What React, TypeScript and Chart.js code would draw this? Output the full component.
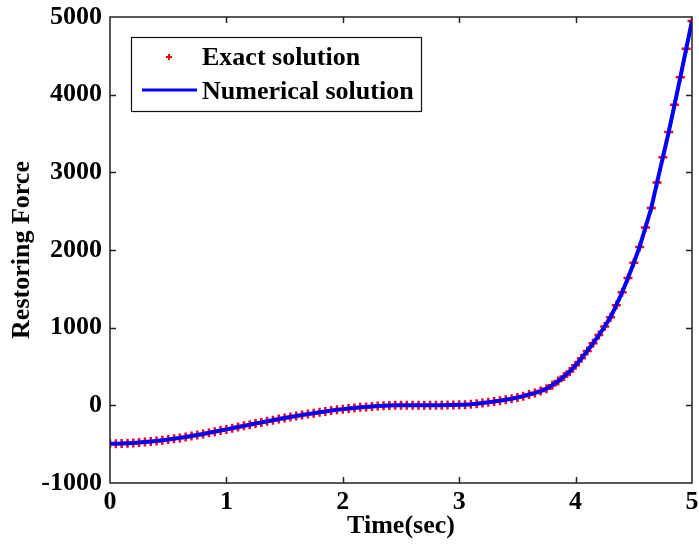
import { useEffect, useRef } from "react";
import { Chart, registerables } from "chart.js";

Chart.register(...registerables);

const timeSec = [
  0.0, 0.05, 0.1, 0.15, 0.2, 0.25, 0.3, 0.35, 0.4, 0.45,
  0.5, 0.55, 0.6, 0.65, 0.7, 0.75, 0.8, 0.85, 0.9, 0.95,
  1.0, 1.05, 1.1, 1.15, 1.2, 1.25, 1.3, 1.35, 1.4, 1.45,
  1.5, 1.55, 1.6, 1.65, 1.7, 1.75, 1.8, 1.85, 1.9, 1.95,
  2.0, 2.05, 2.1, 2.15, 2.2, 2.25, 2.3, 2.35, 2.4, 2.45,
  2.5, 2.55, 2.6, 2.65, 2.7, 2.75, 2.8, 2.85, 2.9, 2.95,
  3.0, 3.05, 3.1, 3.15, 3.2, 3.25, 3.3, 3.35, 3.4, 3.45,
  3.5, 3.55, 3.6, 3.65, 3.7, 3.75, 3.8, 3.85, 3.9, 3.95,
  4.0, 4.05, 4.1, 4.15, 4.2, 4.25, 4.3, 4.35, 4.4, 4.45,
  4.5, 4.55, 4.6, 4.65, 4.7, 4.75, 4.8, 4.85, 4.9, 4.95,
  5.0,
];

const exactForce = [
  -495, -494, -491, -488, -484, -479, -473, -466, -458, -449,
  -440, -430, -419, -407, -395, -382, -368, -354, -340, -325,
  -310, -294, -279, -264, -249, -234, -220, -205, -191, -177,
  -164, -151, -138, -125, -113, -101, -90, -79, -68, -58,
  -49, -41, -33, -26, -20, -14, -9, -5, -2, 0,
  1, 2, 2, 2, 2, 2, 2, 2, 3, 4,
  6, 9, 14, 21, 30, 40, 50, 60, 71, 84,
  100, 118, 140, 160, 183, 215, 260, 312, 370, 435,
  515, 605, 700, 800, 905, 1015, 1135, 1290, 1455, 1640,
  1835, 2040, 2290, 2540, 2870, 3195, 3520, 3870, 4225, 4590,
  4950,
];

const numericalForce = [
  -495, -494, -491, -488, -484, -479, -473, -466, -458, -449,
  -440, -430, -419, -407, -395, -382, -368, -354, -340, -325,
  -310, -294, -279, -264, -249, -234, -220, -205, -191, -177,
  -164, -151, -138, -125, -113, -101, -90, -79, -68, -58,
  -49, -41, -33, -26, -20, -14, -9, -5, -2, 0,
  1, 2, 2, 2, 2, 2, 2, 2, 3, 4,
  6, 9, 14, 21, 30, 40, 50, 60, 71, 84,
  100, 118, 140, 160, 183, 215, 260, 312, 370, 435,
  515, 605, 700, 800, 905, 1015, 1135, 1290, 1455, 1640,
  1835, 2040, 2290, 2540, 2870, 3195, 3520, 3870, 4225, 4590,
  4950,
];

const xTicks = [0, 1, 2, 3, 4, 5];
const yTicks = [-1000, 0, 1000, 2000, 3000, 4000, 5000];
const seriesLabels = ["Exact solution", "Numerical solution"];
const xTitle = "Time(sec)";
const yTitle = "Restoring Force";

const FONT_FAMILY = '"Liberation Serif", "Times New Roman", serif';
const AXIS_COLOR = "#222222";

const framePlugin = {
  id: "frameTicks",
  afterDraw(chart: any) {
    const { ctx, chartArea } = chart;
    const { left, right, top, bottom } = chartArea;
    const xs = chart.scales.x;
    const ys = chart.scales.y;
    const tl = 6;
    ctx.save();
    ctx.strokeStyle = AXIS_COLOR;
    ctx.lineWidth = 1.5;
    ctx.strokeRect(left, top, right - left, bottom - top);
    ctx.beginPath();
    xTicks.forEach((v) => {
      if (v === xTicks[0] || v === xTicks[xTicks.length - 1]) return;
      const px = Math.round(xs.getPixelForValue(v)) + 0.5;
      ctx.moveTo(px, bottom);
      ctx.lineTo(px, bottom - tl);
      ctx.moveTo(px, top);
      ctx.lineTo(px, top + tl);
    });
    yTicks.forEach((v) => {
      if (v === yTicks[0] || v === yTicks[yTicks.length - 1]) return;
      const py = Math.round(ys.getPixelForValue(v)) + 0.5;
      ctx.moveTo(left, py);
      ctx.lineTo(left + tl, py);
      ctx.moveTo(right, py);
      ctx.lineTo(right - tl, py);
    });
    ctx.stroke();

    // legend
    const bx = 131, by = 37, bw = 290, bh = 74;
    ctx.fillStyle = "#ffffff";
    ctx.fillRect(bx, by, bw, bh);
    ctx.strokeStyle = "#111111";
    ctx.lineWidth = 1.2;
    ctx.strokeRect(bx + 0.5, by + 0.5, bw, bh);

    // exact marker
    ctx.strokeStyle = "#ff0000";
    ctx.lineWidth = 2;
    ctx.beginPath();
    ctx.moveTo(166, 57);
    ctx.lineTo(172, 57);
    ctx.moveTo(169, 54);
    ctx.lineTo(169, 60);
    ctx.stroke();

    // numerical line
    ctx.strokeStyle = "#0000ff";
    ctx.lineWidth = 3;
    ctx.beginPath();
    ctx.moveTo(142, 90);
    ctx.lineTo(197, 90);
    ctx.stroke();

    ctx.fillStyle = "#000000";
    ctx.font = `bold 26px ${FONT_FAMILY}`;
    ctx.textBaseline = "alphabetic";
    ctx.textAlign = "left";
    ctx.fillText(seriesLabels[0], 202, 65);
    ctx.fillText(seriesLabels[1], 202, 99);
    ctx.restore();
  },
};

export default function App() {
  const ref = useRef<HTMLCanvasElement | null>(null);

  useEffect(() => {
    if (!ref.current) return;
    const exactPts = timeSec.map((t, i) => ({ x: t, y: exactForce[i] }));
    const numPts = timeSec.map((t, i) => ({ x: t, y: numericalForce[i] }));
    const tickFont = { family: FONT_FAMILY, size: 26, weight: "bold" as const, lineHeight: 1.2 };
    const chart = new Chart(ref.current, {
      type: "line",
      data: {
        datasets: [
          {
            label: seriesLabels[0],
            data: exactPts,
            showLine: false,
            pointStyle: "cross",
            pointRadius: 4.5,
            pointBorderWidth: 2.5,
            pointBorderColor: "#ff0000",
            pointBackgroundColor: "#ff0000",
            borderColor: "#ff0000",
            order: 2,
          },
          {
            label: seriesLabels[1],
            data: numPts,
            borderColor: "#0000ff",
            borderWidth: 4,
            pointRadius: 0,
            tension: 0,
            fill: false,
            order: 1,
          },
        ],
      },
      options: {
        animation: false,
        responsive: false,
        devicePixelRatio: 1,
        layout: { padding: { left: 0, right: 7, top: 17, bottom: 0 } },
        plugins: {
          legend: { display: false },
          tooltip: { enabled: false },
        },
        scales: {
          x: {
            type: "linear",
            min: 0,
            max: 5,
            afterFit: (s: any) => {
              s.height = 65;
              s.paddingLeft = 0;
              s.paddingRight = 0;
            },
            afterBuildTicks: (s: any) => {
              s.ticks = xTicks.map((v) => ({ value: v }));
            },
            grid: { display: false, drawTicks: false },
            border: { display: false },
            ticks: {
              color: "#000000",
              font: tickFont,
              padding: 4,
              maxRotation: 0,
              callback: (v: any) => String(v),
            },
            title: {
              display: true,
              text: xTitle,
              color: "#000000",
              font: tickFont,
              padding: { top: 0, bottom: 6 },
            },
          },
          y: {
            type: "linear",
            min: -1000,
            max: 5000,
            afterFit: (s: any) => {
              s.width = 110;
              s.paddingTop = 0;
              s.paddingBottom = 0;
            },
            afterBuildTicks: (s: any) => {
              s.ticks = yTicks.map((v) => ({ value: v }));
            },
            grid: { display: false, drawTicks: false },
            border: { display: false },
            ticks: {
              color: "#000000",
              font: tickFont,
              padding: 8,
              callback: (v: any) => String(v),
            },
            title: {
              display: true,
              text: yTitle,
              color: "#000000",
              font: tickFont,
              padding: { top: 7, bottom: 0 },
            },
          },
        },
      },
      plugins: [framePlugin],
    });
    return () => chart.destroy();
  }, []);

  return (
    <canvas
      ref={ref}
      width={699}
      height={548}
      style={{ position: "fixed", left: 0, top: 0, display: "block", background: "#ffffff" }}
    />
  );
}
